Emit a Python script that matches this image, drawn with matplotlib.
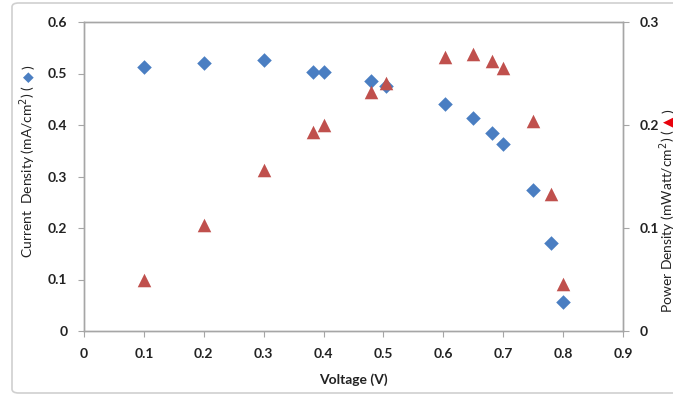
import matplotlib
matplotlib.use("Agg")
import matplotlib.pyplot as plt
from matplotlib.patches import FancyBboxPatch

plt.rcParams["font.family"] = ["Lato", "DejaVu Sans"]

# === Data ===
voltage_j = [0.1, 0.2, 0.3, 0.383, 0.4, 0.479, 0.505, 0.603, 0.649, 0.681, 0.70, 0.75, 0.78, 0.80]
current_density = [0.513, 0.520, 0.526, 0.503, 0.503, 0.485, 0.476, 0.441, 0.414, 0.384, 0.363, 0.274, 0.171, 0.056]

voltage_p = [0.1, 0.2, 0.3, 0.383, 0.4, 0.479, 0.505, 0.603, 0.649, 0.681, 0.70, 0.75, 0.78, 0.80]
power_density = [0.050, 0.103, 0.156, 0.193, 0.200, 0.232, 0.241, 0.266, 0.269, 0.262, 0.255, 0.204, 0.133, 0.046]

blue = "#4A7EC2"
red = "#C0504D"
axis_grey = "#A6A6A6"
text_col = "#222222"

fig = plt.figure(figsize=(6.73, 3.94), dpi=100)

# chart border (Excel style)
border = FancyBboxPatch((12 / 673, 1 / 394), 1.2, 1 - 4 / 394,
                        boxstyle="round,pad=0,rounding_size=0.01",
                        transform=fig.transFigure, fill=False,
                        edgecolor="#D0D0D0", linewidth=1.2, clip_on=False)
fig.patches.append(border)

ax = fig.add_axes([84 / 673, 1 - 331 / 394, (623 - 84) / 673, (331 - 22) / 394])
ax2 = ax.twinx()

ax.scatter(voltage_j, current_density, marker="D", s=55, color=blue, zorder=3, linewidths=0)
ax2.scatter(voltage_p, power_density, marker="^", s=95, color=red, zorder=3, linewidths=0)

ax.set_xlim(0, 0.9)
ax.set_ylim(0, 0.6)
ax2.set_ylim(0, 0.3)
ax.set_xticks([0, 0.1, 0.2, 0.3, 0.4, 0.5, 0.6, 0.7, 0.8, 0.9])
ax.set_xticklabels(["0", "0.1", "0.2", "0.3", "0.4", "0.5", "0.6", "0.7", "0.8", "0.9"])
ax.set_yticks([0, 0.1, 0.2, 0.3, 0.4, 0.5, 0.6])
ax.set_yticklabels(["0", "0.1", "0.2", "0.3", "0.4", "0.5", "0.6"])
ax2.set_yticks([0, 0.1, 0.2, 0.3])
ax2.set_yticklabels(["0", "0.1", "0.2", "0.3"])

for a in (ax, ax2):
    for sp in a.spines.values():
        sp.set_color(axis_grey)
        sp.set_linewidth(1.0)
    a.tick_params(colors=axis_grey, labelcolor=text_col, length=4, width=0.8,
                  labelsize=10)
    for lbl in a.get_xticklabels() + a.get_yticklabels():
        lbl.set_fontweight("bold")
ax.tick_params(axis="y", pad=8)
ax2.tick_params(axis="y", pad=8)
ax.tick_params(axis="x", pad=8)

ax.set_xlabel("Voltage (V)", fontsize=10, fontweight="bold", labelpad=10, color=text_col)


# y axis titles with a coloured symbol, chained with annotate
def axis_title(x_px, y_start_px, text, symbol, scolor):
    t = fig.text(x_px / 673, 1 - y_start_px / 394, text, rotation=90, fontsize=10,
                 ha="center", va="bottom", color=text_col)
    sym = ax.annotate(symbol, xy=(0.5, 1), xycoords=t, xytext=(0, 2),
                      textcoords="offset points", rotation=90, fontsize=10,
                      ha="center", va="bottom", color=scolor,
                      family="DejaVu Sans", annotation_clip=False)
    ax.annotate(")", xy=(0.5, 1), xycoords=sym, xytext=(0, 2),
                textcoords="offset points", rotation=90, fontsize=10,
                ha="center", va="bottom", color=text_col, annotation_clip=False)


axis_title(28, 258, "Current  Density (mA/cm$^2$) (", "\u25c6", blue)
axis_title(668, 313, "Power Density (mWatt/cm$^2$) (", "\u25b2", "#E8000B")

fig.savefig("out.png", dpi=100)
